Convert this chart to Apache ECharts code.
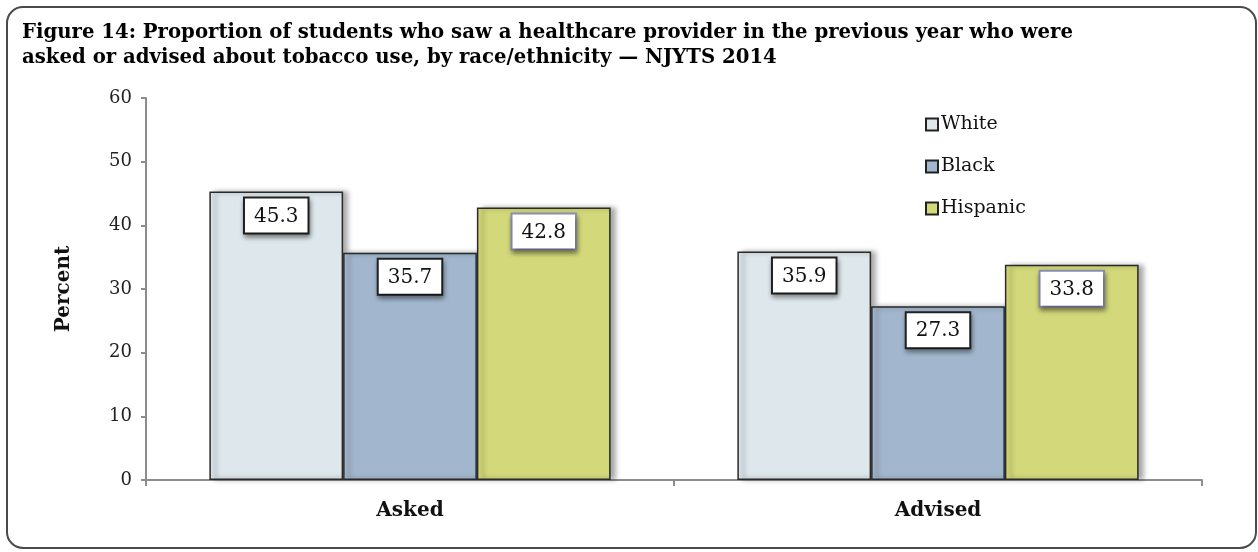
<!DOCTYPE html>
<html>
<head>
<meta charset="utf-8">
<script src="https://cdn.jsdelivr.net/npm/echarts@6/dist/echarts.min.js"></script>
<style>
  html, body { margin: 0; padding: 0; background: #ffffff; }
  #chart { width: 1258px; height: 552px; }
</style>
</head>
<body>
<div id="chart"></div>
<script>
// Categories, groups and values
const categories = ['Asked', 'Advised'];
const groupNames = ['White', 'Black', 'Hispanic'];
const whiteValues = [45.3, 35.9];
const blackValues = [35.7, 27.3];
const hispanicValues = [42.8, 33.8];
const yTicks = [0, 10, 20, 30, 40, 50, 60];

const titleLines = [
  'Figure 14: Proportion of students who saw a healthcare provider in the previous year who were',
  'asked or advised about tobacco use, by race/ethnicity \u2014 NJYTS 2014'
];

const serif = '"DejaVu Serif", "Liberation Serif", serif';
const fills = ['#dde7ec', '#a2b7ce', '#d3d97a'];
const labelBorders = ['#222222', '#222222', '#8a8fb3'];

function makeSeries(name, values, idx) {
  return {
    name: name,
    type: 'bar',
    data: values,
    barGap: '0%',
    barCategoryGap: '24%',
    itemStyle: {
      color: fills[idx],
      borderColor: '#2a2a2a',
      borderWidth: 1.5,
      shadowColor: 'rgba(0,0,0,0.35)',
      shadowBlur: 5,
      shadowOffsetX: 5,
      shadowOffsetY: 0
    },
    label: {
      show: true,
      position: 'insideTop',
      distance: 7,
      formatter: (p) => p.value.toFixed(1),
      fontFamily: serif,
      fontSize: 20,
      color: '#111',
      backgroundColor: '#ffffff',
      borderColor: labelBorders[idx],
      borderWidth: 2,
      padding: [8, 9, 6, 9],
      shadowColor: 'rgba(0,0,0,0.4)',
      shadowBlur: 5,
      shadowOffsetX: 1,
      shadowOffsetY: 3
    }
  };
}

const chart = echarts.init(document.getElementById('chart'), null, { renderer: 'canvas' });

chart.setOption({
  backgroundColor: '#ffffff',
  animation: false,
  graphic: [
    {
      type: 'rect',
      shape: { x: 7, y: 7, width: 1249, height: 541, r: 16 },
      style: { fill: 'none', stroke: '#4a4a4a', lineWidth: 2 },
      z: -1
    },
    {
      type: 'text',
      left: 22,
      top: 20,
      style: {
        text: titleLines.join('\n'),
        font: 'bold 19.7px ' + serif,
        fill: '#000',
        lineHeight: 25
      }
    }
  ],
  grid: { left: 146, right: 56, top: 98, bottom: 72 },
  legend: {
    data: groupNames,
    orient: 'vertical',
    left: 920,
    top: 110,
    itemWidth: 12,
    itemHeight: 12,
    itemGap: 23,
    icon: 'rect',
    itemStyle: { borderColor: '#222', borderWidth: 2 },
    textStyle: { fontFamily: serif, fontSize: 19, color: '#111', padding: [0, 0, 0, -2] }
  },
  xAxis: {
    type: 'category',
    data: categories,
    axisLine: { lineStyle: { color: '#8c8c8c', width: 2 } },
    axisTick: { show: true, length: 6, lineStyle: { color: '#8c8c8c', width: 2 } },
    axisLabel: { fontFamily: serif, fontSize: 20, fontWeight: 'bold', color: '#111', margin: 21 }
  },
  yAxis: {
    type: 'value',
    min: yTicks[0],
    max: yTicks[yTicks.length - 1],
    interval: 10,
    name: 'Percent',
    nameLocation: 'middle',
    nameGap: 72,
    nameRotate: 90,
    nameTextStyle: { fontFamily: serif, fontSize: 20, fontWeight: 'bold', color: '#111' },
    splitLine: { show: false },
    axisLine: { show: true, lineStyle: { color: '#8c8c8c', width: 2 } },
    axisTick: { show: true, length: 5, lineStyle: { color: '#8c8c8c', width: 2 } },
    axisLabel: { fontFamily: serif, fontSize: 18, color: '#222', margin: 14 }
  },
  series: [
    makeSeries(groupNames[0], whiteValues, 0),
    makeSeries(groupNames[1], blackValues, 1),
    makeSeries(groupNames[2], hispanicValues, 2)
  ]
});
</script>
</body>
</html>
